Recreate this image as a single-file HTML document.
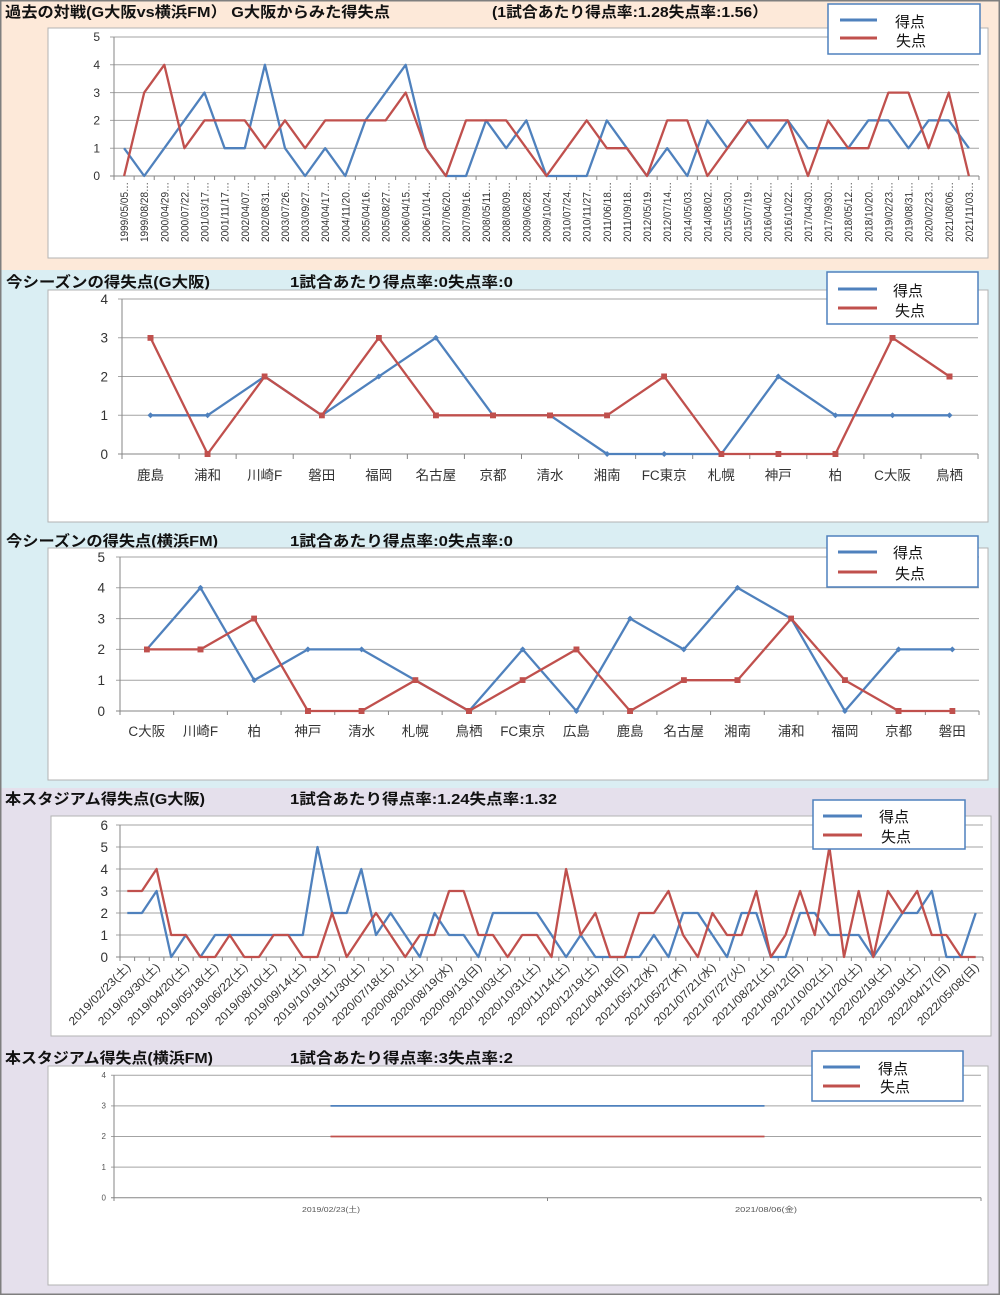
<!DOCTYPE html>
<html><head><meta charset="utf-8"><style>
html,body{margin:0;padding:0;background:#fff}
svg{display:block}
text{font-family:"Liberation Sans","Noto Sans CJK JP",sans-serif}
.t{font-size:15px;font-weight:bold;fill:#111}
.lg{font-size:15px;fill:#111}
.ax{font-size:12px;fill:#333}
.cx{font-size:13.5px;fill:#333}
.gr{stroke:#a3a3a3;stroke-width:1;fill:none}
.axl{stroke:#868686;stroke-width:1;fill:none}
.b{fill:none;stroke:#4f81bd;stroke-width:2.3;stroke-linejoin:round}
.r{fill:none;stroke:#c0504d;stroke-width:2.3;stroke-linejoin:round}
.box{fill:#fff;stroke:#b3b3b3;stroke-width:1}
.leg{fill:#fff;stroke:#4f81bd;stroke-width:1.5}
</style></head><body>
<svg width="1000" height="1295" viewBox="0 0 1000 1295" xmlns="http://www.w3.org/2000/svg">
<defs>
<marker id="sq" viewBox="0 0 6 6" refX="3" refY="3" markerWidth="6" markerHeight="6" markerUnits="userSpaceOnUse"><rect width="6" height="6" fill="#c0504d"/></marker>
<marker id="dm" viewBox="0 0 6 6" refX="3" refY="3" markerWidth="6" markerHeight="6" markerUnits="userSpaceOnUse"><path d="M3 0L6 3L3 6L0 3Z" fill="#4f81bd"/></marker>
</defs>
<!-- backgrounds -->
<rect x="0" y="0" width="1000" height="270" fill="#fde9d9"/>
<rect x="0" y="270" width="1000" height="518" fill="#daeef3"/>
<rect x="0" y="788" width="1000" height="507" fill="#e5e0ec"/>
<rect x="0.75" y="0.75" width="998.5" height="1293.5" fill="none" stroke="#7f7f7f" stroke-width="1.5"/>

<!-- ============ CHART 1 ============ -->
<text class="t" x="5" y="17" textLength="385" lengthAdjust="spacingAndGlyphs">過去の対戦(G大阪vs横浜FM） G大阪からみた得失点</text>
<text class="t" x="492" y="17" textLength="276" lengthAdjust="spacingAndGlyphs">(1試合あたり得点率:1.28失点率:1.56）</text>
<rect class="box" x="48" y="28" width="940" height="230"/>
<path class="gr" d="M110 37H979M110 64.8H979M110 92.6H979M110 120.4H979M110 148.2H979"/>
<path class="axl" d="M114 37V176M110 176H979"/>
<line x1="113.5" y1="178" x2="979.5" y2="178" stroke="#868686" stroke-width="4" stroke-dasharray="1 19.116"/>
<g class="ax" text-anchor="end">
<text x="100" y="41">5</text><text x="100" y="69">4</text><text x="100" y="97">3</text><text x="100" y="124.5">2</text><text x="100" y="152.5">1</text><text x="100" y="180">0</text>
</g>
<g transform="rotate(-90)" text-anchor="end" style="font-size:11px;fill:#333">
<text x="-182" y="128.1" textLength="60" lengthAdjust="spacingAndGlyphs">1999/05/05…</text>
<text x="-182" y="148.2" textLength="60" lengthAdjust="spacingAndGlyphs">1999/08/28…</text>
<text x="-182" y="168.3" textLength="60" lengthAdjust="spacingAndGlyphs">2000/04/29…</text>
<text x="-182" y="188.4" textLength="60" lengthAdjust="spacingAndGlyphs">2000/07/22…</text>
<text x="-182" y="208.5" textLength="60" lengthAdjust="spacingAndGlyphs">2001/03/17…</text>
<text x="-182" y="228.6" textLength="60" lengthAdjust="spacingAndGlyphs">2001/11/17…</text>
<text x="-182" y="248.8" textLength="60" lengthAdjust="spacingAndGlyphs">2002/04/07…</text>
<text x="-182" y="268.9" textLength="60" lengthAdjust="spacingAndGlyphs">2002/08/31…</text>
<text x="-182" y="289.0" textLength="60" lengthAdjust="spacingAndGlyphs">2003/07/26…</text>
<text x="-182" y="309.1" textLength="60" lengthAdjust="spacingAndGlyphs">2003/09/27…</text>
<text x="-182" y="329.2" textLength="60" lengthAdjust="spacingAndGlyphs">2004/04/17…</text>
<text x="-182" y="349.3" textLength="60" lengthAdjust="spacingAndGlyphs">2004/11/20…</text>
<text x="-182" y="369.4" textLength="60" lengthAdjust="spacingAndGlyphs">2005/04/16…</text>
<text x="-182" y="389.6" textLength="60" lengthAdjust="spacingAndGlyphs">2005/08/27…</text>
<text x="-182" y="409.7" textLength="60" lengthAdjust="spacingAndGlyphs">2006/04/15…</text>
<text x="-182" y="429.8" textLength="60" lengthAdjust="spacingAndGlyphs">2006/10/14…</text>
<text x="-182" y="449.9" textLength="60" lengthAdjust="spacingAndGlyphs">2007/06/20…</text>
<text x="-182" y="470.0" textLength="60" lengthAdjust="spacingAndGlyphs">2007/09/16…</text>
<text x="-182" y="490.1" textLength="60" lengthAdjust="spacingAndGlyphs">2008/05/11…</text>
<text x="-182" y="510.2" textLength="60" lengthAdjust="spacingAndGlyphs">2008/08/09…</text>
<text x="-182" y="530.4" textLength="60" lengthAdjust="spacingAndGlyphs">2009/06/28…</text>
<text x="-182" y="550.5" textLength="60" lengthAdjust="spacingAndGlyphs">2009/10/24…</text>
<text x="-182" y="570.6" textLength="60" lengthAdjust="spacingAndGlyphs">2010/07/24…</text>
<text x="-182" y="590.7" textLength="60" lengthAdjust="spacingAndGlyphs">2010/11/27…</text>
<text x="-182" y="610.8" textLength="60" lengthAdjust="spacingAndGlyphs">2011/06/18…</text>
<text x="-182" y="630.9" textLength="60" lengthAdjust="spacingAndGlyphs">2011/09/18…</text>
<text x="-182" y="651.0" textLength="60" lengthAdjust="spacingAndGlyphs">2012/05/19…</text>
<text x="-182" y="671.2" textLength="60" lengthAdjust="spacingAndGlyphs">2012/07/14…</text>
<text x="-182" y="691.3" textLength="60" lengthAdjust="spacingAndGlyphs">2014/05/03…</text>
<text x="-182" y="711.4" textLength="60" lengthAdjust="spacingAndGlyphs">2014/08/02…</text>
<text x="-182" y="731.5" textLength="60" lengthAdjust="spacingAndGlyphs">2015/05/30…</text>
<text x="-182" y="751.6" textLength="60" lengthAdjust="spacingAndGlyphs">2015/07/19…</text>
<text x="-182" y="771.7" textLength="60" lengthAdjust="spacingAndGlyphs">2016/04/02…</text>
<text x="-182" y="791.8" textLength="60" lengthAdjust="spacingAndGlyphs">2016/10/22…</text>
<text x="-182" y="812.0" textLength="60" lengthAdjust="spacingAndGlyphs">2017/04/30…</text>
<text x="-182" y="832.1" textLength="60" lengthAdjust="spacingAndGlyphs">2017/09/30…</text>
<text x="-182" y="852.2" textLength="60" lengthAdjust="spacingAndGlyphs">2018/05/12…</text>
<text x="-182" y="872.3" textLength="60" lengthAdjust="spacingAndGlyphs">2018/10/20…</text>
<text x="-182" y="892.4" textLength="60" lengthAdjust="spacingAndGlyphs">2019/02/23…</text>
<text x="-182" y="912.5" textLength="60" lengthAdjust="spacingAndGlyphs">2019/08/31…</text>
<text x="-182" y="932.6" textLength="60" lengthAdjust="spacingAndGlyphs">2020/02/23…</text>
<text x="-182" y="952.8" textLength="60" lengthAdjust="spacingAndGlyphs">2021/08/06…</text>
<text x="-182" y="972.9" textLength="60" lengthAdjust="spacingAndGlyphs">2021/11/03…</text>
</g>
<polyline class="b" points="124.1,148.2 144.2,176 164.3,148.2 184.4,120.4 204.5,92.6 224.6,148.2 244.8,148.2 264.9,64.8 285.0,148.2 305.1,176 325.2,148.2 345.3,176 365.4,120.4 385.6,92.6 405.7,64.8 425.8,148.2 445.9,176 466.0,176 486.1,120.4 506.2,148.2 526.4,120.4 546.5,176 566.6,176 586.7,176 606.8,120.4 626.9,148.2 647.0,176 667.2,148.2 687.3,176 707.4,120.4 727.5,148.2 747.6,120.4 767.7,148.2 787.8,120.4 808.0,148.2 828.1,148.2 848.2,148.2 868.3,120.4 888.4,120.4 908.5,148.2 928.6,120.4 948.8,120.4 968.9,148.2"/>
<polyline class="r" points="124.1,176 144.2,92.6 164.3,64.8 184.4,148.2 204.5,120.4 224.6,120.4 244.8,120.4 264.9,148.2 285.0,120.4 305.1,148.2 325.2,120.4 345.3,120.4 365.4,120.4 385.6,120.4 405.7,92.6 425.8,148.2 445.9,176 466.0,120.4 486.1,120.4 506.2,120.4 526.4,148.2 546.5,176 566.6,148.2 586.7,120.4 606.8,148.2 626.9,148.2 647.0,176 667.2,120.4 687.3,120.4 707.4,176 727.5,148.2 747.6,120.4 767.7,120.4 787.8,120.4 808.0,176 828.1,120.4 848.2,148.2 868.3,148.2 888.4,92.6 908.5,92.6 928.6,148.2 948.8,92.6 968.9,176"/>
<rect class="leg" x="828" y="4" width="152" height="50"/>
<line x1="840" y1="20" x2="877" y2="20" stroke="#4f81bd" stroke-width="3"/>
<line x1="840" y1="38" x2="877" y2="38" stroke="#c0504d" stroke-width="3"/>
<text class="lg" x="895" y="27">得点</text>
<text class="lg" x="896" y="46">失点</text>

<!-- ============ CHART 2 ============ -->
<text class="t" x="6" y="287" textLength="204" lengthAdjust="spacingAndGlyphs">今シーズンの得失点(G大阪)</text>
<text class="t" x="290" y="287" textLength="223" lengthAdjust="spacingAndGlyphs">1試合あたり得点率:0失点率:0</text>
<rect class="box" x="48" y="290" width="940" height="232"/>
<path class="gr" d="M118 299H978M118 337.75H978M118 376.5H978M118 415.25H978"/>
<path class="axl" d="M122 299V454M118 454H978"/>
<line x1="121.5" y1="456.5" x2="978.5" y2="456.5" stroke="#868686" stroke-width="5" stroke-dasharray="1 56.07"/>
<g class="cx" text-anchor="end">
<text x="108" y="304">4</text><text x="108" y="342.5">3</text><text x="108" y="381.5">2</text><text x="108" y="420">1</text><text x="108" y="459">0</text>
</g>
<g class="cx" text-anchor="middle">
<text x="150.5" y="480">鹿島</text><text x="207.6" y="480">浦和</text><text x="264.7" y="480">川崎F</text><text x="321.8" y="480">磐田</text><text x="378.8" y="480">福岡</text><text x="435.9" y="480">名古屋</text><text x="493.0" y="480">京都</text><text x="550.0" y="480">清水</text><text x="607.1" y="480">湘南</text><text x="664.2" y="480">FC東京</text><text x="721.3" y="480">札幌</text><text x="778.3" y="480">神戸</text><text x="835.4" y="480">柏</text><text x="892.5" y="480">C大阪</text><text x="949.5" y="480">鳥栖</text>
</g>
<polyline class="b" marker-start="url(#dm)" marker-mid="url(#dm)" marker-end="url(#dm)" points="150.5,415.3 207.6,415.3 264.7,376.5 321.8,415.3 378.8,376.5 435.9,337.8 493.0,415.3 550.0,415.3 607.1,454 664.2,454 721.3,454 778.3,376.5 835.4,415.3 892.5,415.3 949.5,415.3"/>
<polyline class="r" marker-start="url(#sq)" marker-mid="url(#sq)" marker-end="url(#sq)" points="150.5,337.8 207.6,454 264.7,376.5 321.8,415.3 378.8,337.8 435.9,415.3 493.0,415.3 550.0,415.3 607.1,415.3 664.2,376.5 721.3,454 778.3,454 835.4,454 892.5,337.8 949.5,376.5"/>
<rect class="leg" x="827" y="272" width="151" height="52"/>
<line x1="838" y1="289" x2="877" y2="289" stroke="#4f81bd" stroke-width="3"/>
<line x1="838" y1="308" x2="877" y2="308" stroke="#c0504d" stroke-width="3"/>
<text class="lg" x="893" y="296">得点</text>
<text class="lg" x="895" y="316">失点</text>

<!-- ============ CHART 3 ============ -->
<text class="t" x="6" y="546" textLength="212" lengthAdjust="spacingAndGlyphs">今シーズンの得失点(横浜FM)</text>
<text class="t" x="290" y="546" textLength="223" lengthAdjust="spacingAndGlyphs">1試合あたり得点率:0失点率:0</text>
<rect class="box" x="48" y="548" width="940" height="232"/>
<path class="gr" d="M116 557H979M116 587.8H979M116 618.6H979M116 649.4H979M116 680.2H979"/>
<path class="axl" d="M120 557V711M116 711H979"/>
<line x1="119.5" y1="713" x2="979.5" y2="713" stroke="#868686" stroke-width="4" stroke-dasharray="1 52.69"/>
<g class="cx" text-anchor="end">
<text x="105" y="562">5</text><text x="105" y="592.5">4</text><text x="105" y="623.5">3</text><text x="105" y="654">2</text><text x="105" y="685">1</text><text x="105" y="716">0</text>
</g>
<g class="cx" text-anchor="middle">
<text x="146.8" y="736">C大阪</text><text x="200.5" y="736">川崎F</text><text x="254.2" y="736">柏</text><text x="307.9" y="736">神戸</text><text x="361.6" y="736">清水</text><text x="415.3" y="736">札幌</text><text x="469.0" y="736">鳥栖</text><text x="522.7" y="736">FC東京</text><text x="576.4" y="736">広島</text><text x="630.1" y="736">鹿島</text><text x="683.8" y="736">名古屋</text><text x="737.5" y="736">湘南</text><text x="791.2" y="736">浦和</text><text x="844.9" y="736">福岡</text><text x="898.6" y="736">京都</text><text x="952.3" y="736">磐田</text>
</g>
<polyline class="b" marker-start="url(#dm)" marker-mid="url(#dm)" marker-end="url(#dm)" points="146.8,649.4 200.5,587.8 254.2,680.2 307.9,649.4 361.6,649.4 415.3,680.2 469.0,711 522.7,649.4 576.4,711 630.1,618.6 683.8,649.4 737.5,587.8 791.2,618.6 844.9,711 898.6,649.4 952.3,649.4"/>
<polyline class="r" marker-start="url(#sq)" marker-mid="url(#sq)" marker-end="url(#sq)" points="146.8,649.4 200.5,649.4 254.2,618.6 307.9,711 361.6,711 415.3,680.2 469.0,711 522.7,680.2 576.4,649.4 630.1,711 683.8,680.2 737.5,680.2 791.2,618.6 844.9,680.2 898.6,711 952.3,711"/>
<rect class="leg" x="827" y="536" width="151" height="51"/>
<line x1="838" y1="552" x2="877" y2="552" stroke="#4f81bd" stroke-width="3"/>
<line x1="838" y1="572" x2="877" y2="572" stroke="#c0504d" stroke-width="3"/>
<text class="lg" x="893" y="558">得点</text>
<text class="lg" x="895" y="579">失点</text>

<!-- ============ CHART 4 ============ -->
<text class="t" x="5" y="804" textLength="200" lengthAdjust="spacingAndGlyphs">本スタジアム得失点(G大阪)</text>
<text class="t" x="290" y="804" textLength="267" lengthAdjust="spacingAndGlyphs">1試合あたり得点率:1.24失点率:1.32</text>
<rect class="box" x="51" y="816" width="940" height="220"/>
<path class="gr" d="M116 825H983M116 847H983M116 869H983M116 891H983M116 913H983M116 935H983"/>
<path class="axl" d="M120 825V957M116 957H983"/>
<line x1="119.5" y1="959" x2="983.5" y2="959" stroke="#868686" stroke-width="4" stroke-dasharray="1 13.627"/>
<g class="cx" text-anchor="end">
<text x="108" y="830">6</text><text x="108" y="852">5</text><text x="108" y="874">4</text><text x="108" y="896">3</text><text x="108" y="918">2</text><text x="108" y="940">1</text><text x="108" y="962">0</text>
</g>
<g text-anchor="end" style="font-size:11.5px;fill:#333">
<text transform="translate(131.3,968) rotate(-45)" textLength="82" lengthAdjust="spacingAndGlyphs">2019/02/23(土)</text>
<text transform="translate(160.6,968) rotate(-45)" textLength="82" lengthAdjust="spacingAndGlyphs">2019/03/30(土)</text>
<text transform="translate(189.8,968) rotate(-45)" textLength="82" lengthAdjust="spacingAndGlyphs">2019/04/20(土)</text>
<text transform="translate(219.1,968) rotate(-45)" textLength="82" lengthAdjust="spacingAndGlyphs">2019/05/18(土)</text>
<text transform="translate(248.3,968) rotate(-45)" textLength="82" lengthAdjust="spacingAndGlyphs">2019/06/22(土)</text>
<text transform="translate(277.6,968) rotate(-45)" textLength="82" lengthAdjust="spacingAndGlyphs">2019/08/10(土)</text>
<text transform="translate(306.8,968) rotate(-45)" textLength="82" lengthAdjust="spacingAndGlyphs">2019/09/14(土)</text>
<text transform="translate(336.1,968) rotate(-45)" textLength="82" lengthAdjust="spacingAndGlyphs">2019/10/19(土)</text>
<text transform="translate(365.3,968) rotate(-45)" textLength="82" lengthAdjust="spacingAndGlyphs">2019/11/30(土)</text>
<text transform="translate(394.6,968) rotate(-45)" textLength="82" lengthAdjust="spacingAndGlyphs">2020/07/18(土)</text>
<text transform="translate(423.9,968) rotate(-45)" textLength="82" lengthAdjust="spacingAndGlyphs">2020/08/01(土)</text>
<text transform="translate(453.1,968) rotate(-45)" textLength="82" lengthAdjust="spacingAndGlyphs">2020/08/19(水)</text>
<text transform="translate(482.4,968) rotate(-45)" textLength="82" lengthAdjust="spacingAndGlyphs">2020/09/13(日)</text>
<text transform="translate(511.6,968) rotate(-45)" textLength="82" lengthAdjust="spacingAndGlyphs">2020/10/03(土)</text>
<text transform="translate(540.9,968) rotate(-45)" textLength="82" lengthAdjust="spacingAndGlyphs">2020/10/31(土)</text>
<text transform="translate(570.1,968) rotate(-45)" textLength="82" lengthAdjust="spacingAndGlyphs">2020/11/14(土)</text>
<text transform="translate(599.4,968) rotate(-45)" textLength="82" lengthAdjust="spacingAndGlyphs">2020/12/19(土)</text>
<text transform="translate(628.6,968) rotate(-45)" textLength="82" lengthAdjust="spacingAndGlyphs">2021/04/18(日)</text>
<text transform="translate(657.9,968) rotate(-45)" textLength="82" lengthAdjust="spacingAndGlyphs">2021/05/12(水)</text>
<text transform="translate(687.1,968) rotate(-45)" textLength="82" lengthAdjust="spacingAndGlyphs">2021/05/27(木)</text>
<text transform="translate(716.4,968) rotate(-45)" textLength="82" lengthAdjust="spacingAndGlyphs">2021/07/21(水)</text>
<text transform="translate(745.6,968) rotate(-45)" textLength="82" lengthAdjust="spacingAndGlyphs">2021/07/27(火)</text>
<text transform="translate(774.9,968) rotate(-45)" textLength="82" lengthAdjust="spacingAndGlyphs">2021/08/21(土)</text>
<text transform="translate(804.1,968) rotate(-45)" textLength="82" lengthAdjust="spacingAndGlyphs">2021/09/12(日)</text>
<text transform="translate(833.4,968) rotate(-45)" textLength="82" lengthAdjust="spacingAndGlyphs">2021/10/02(土)</text>
<text transform="translate(862.7,968) rotate(-45)" textLength="82" lengthAdjust="spacingAndGlyphs">2021/11/20(土)</text>
<text transform="translate(891.9,968) rotate(-45)" textLength="82" lengthAdjust="spacingAndGlyphs">2022/02/19(土)</text>
<text transform="translate(921.2,968) rotate(-45)" textLength="82" lengthAdjust="spacingAndGlyphs">2022/03/19(土)</text>
<text transform="translate(950.4,968) rotate(-45)" textLength="82" lengthAdjust="spacingAndGlyphs">2022/04/17(日)</text>
<text transform="translate(979.7,968) rotate(-45)" textLength="82" lengthAdjust="spacingAndGlyphs">2022/05/08(日)</text>
</g>
<polyline class="b" points="127.3,913 141.9,913 156.6,891 171.2,957 185.8,935 200.4,957 215.1,935 229.7,935 244.3,935 259.0,935 273.6,935 288.2,935 302.8,935 317.5,847 332.1,913 346.7,913 361.3,869 376.0,935 390.6,913 405.2,935 419.9,957 434.5,913 449.1,935 463.7,935 478.4,957 493.0,913 507.6,913 522.2,913 536.9,913 551.5,935 566.1,957 580.7,935 595.4,957 610.0,957 624.6,957 639.3,957 653.9,935 668.5,957 683.1,913 697.8,913 712.4,935 727.0,957 741.6,913 756.3,913 770.9,957 785.5,957 800.1,913 814.8,913 829.4,935 844.0,935 858.7,935 873.3,957 887.9,935 902.5,913 917.2,913 931.8,891 946.4,957 961.0,957 975.7,913"/>
<polyline class="r" points="127.3,891 141.9,891 156.6,869 171.2,935 185.8,935 200.4,957 215.1,957 229.7,935 244.3,957 259.0,957 273.6,935 288.2,935 302.8,957 317.5,957 332.1,913 346.7,957 361.3,935 376.0,913 390.6,935 405.2,957 419.9,935 434.5,935 449.1,891 463.7,891 478.4,935 493.0,935 507.6,957 522.2,935 536.9,935 551.5,957 566.1,869 580.7,935 595.4,913 610.0,957 624.6,957 639.3,913 653.9,913 668.5,891 683.1,935 697.8,957 712.4,913 727.0,935 741.6,935 756.3,891 770.9,957 785.5,935 800.1,891 814.8,935 829.4,847 844.0,957 858.7,891 873.3,957 887.9,891 902.5,913 917.2,891 931.8,935 946.4,935 961.0,957 975.7,957"/>
<rect class="leg" x="813" y="800" width="152" height="49"/>
<line x1="823" y1="816" x2="862" y2="816" stroke="#4f81bd" stroke-width="3"/>
<line x1="823" y1="835" x2="862" y2="835" stroke="#c0504d" stroke-width="3"/>
<text class="lg" x="879" y="822">得点</text>
<text class="lg" x="881" y="842">失点</text>

<!-- ============ CHART 5 ============ -->
<text class="t" x="5" y="1063" textLength="208" lengthAdjust="spacingAndGlyphs">本スタジアム得失点(横浜FM)</text>
<text class="t" x="290" y="1063" textLength="223" lengthAdjust="spacingAndGlyphs">1試合あたり得点率:3失点率:2</text>
<rect class="box" x="48" y="1066" width="940" height="219"/>
<path class="gr" d="M111 1075.3H981M111 1105.9H981M111 1136.5H981M111 1167.1H981"/>
<path class="axl" d="M114 1075.3V1197.7M111 1197.7H981M114 1197.7V1201M547.5 1197.7V1201M981 1197.7V1201"/>
<g text-anchor="end" style="font-size:8px;fill:#555">
<text x="106" y="1078">4</text><text x="106" y="1108.5">3</text><text x="106" y="1139">2</text><text x="106" y="1170">1</text><text x="106" y="1200.5">0</text>
</g>
<g text-anchor="middle" style="font-size:7.5px;fill:#555">
<text x="331" y="1212" textLength="58" lengthAdjust="spacingAndGlyphs">2019/02/23(土)</text>
<text x="766" y="1212" textLength="62" lengthAdjust="spacingAndGlyphs">2021/08/06(金)</text>
</g>
<line x1="330.5" y1="1105.9" x2="764.5" y2="1105.9" stroke="#4f81bd" stroke-width="1.8"/>
<line x1="330.5" y1="1136.5" x2="764.5" y2="1136.5" stroke="#c0504d" stroke-width="1.8"/>
<rect class="leg" x="812" y="1051" width="151" height="50"/>
<line x1="823" y1="1067" x2="860" y2="1067" stroke="#4f81bd" stroke-width="3"/>
<line x1="823" y1="1086" x2="860" y2="1086" stroke="#c0504d" stroke-width="3"/>
<text class="lg" x="878" y="1074">得点</text>
<text class="lg" x="880" y="1092">失点</text>
</svg>
</body></html>
